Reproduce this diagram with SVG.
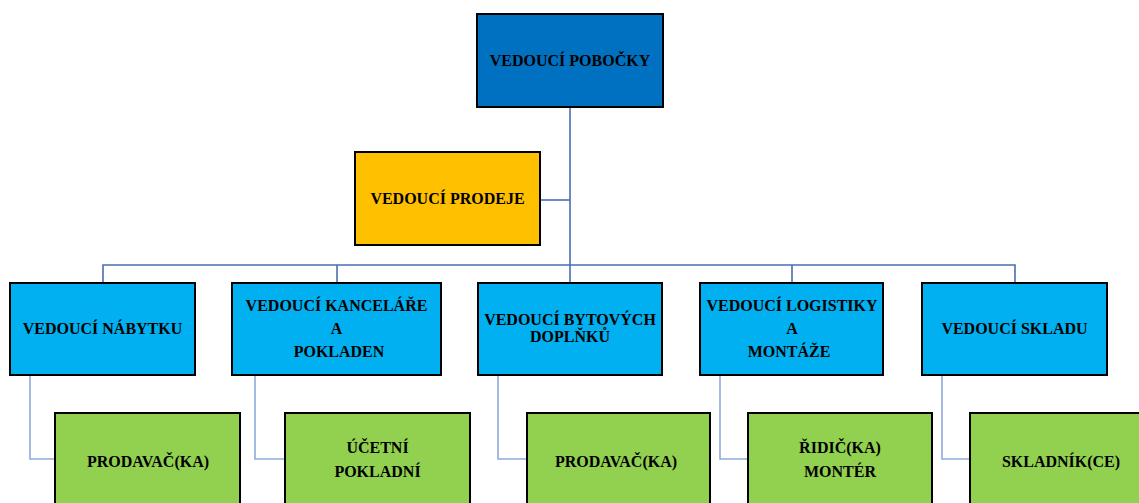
<svg xmlns="http://www.w3.org/2000/svg" width="1139" height="503" viewBox="0 0 1139 503">
<style>
.box{stroke:#000;stroke-width:2}
.top{fill:#0070C0}
.sale{fill:#FFC000}
.mgr{fill:#00B0F0}
.staff{fill:#92D050}
text{font-family:"Liberation Serif","Times New Roman",serif;font-weight:bold;fill:#000;text-anchor:middle;font-size:16px}
.c1{fill:none;stroke:#4a6db3;stroke-width:1.6}
.c2{fill:none;stroke:#8eaadb;stroke-width:1.6}
</style>
<rect width="1139" height="503" fill="#fff"/>
<g id="connectors">
<polyline class="c1" points="570,107 570,283"/>
<polyline class="c1" points="540,200 570,200"/>
<polyline class="c1" points="103,283 103,265 1015,265 1015,283"/>
<polyline class="c1" points="337,265 337,283"/>
<polyline class="c1" points="792,265 792,283"/>
<polyline class="c2" points="30,375 30,459 55,459"/>
<polyline class="c2" points="255,375 255,459 285,459"/>
<polyline class="c2" points="498,375 498,459 527,459"/>
<polyline class="c2" points="720,375 720,459 748,459"/>
<polyline class="c2" points="942,375 942,459 970,459"/>
</g>
<g id="vedouci-pobocky"><rect class="box top" x="477" y="14" width="186" height="93"/><text x="570" y="66">VEDOUCÍ POBOČKY</text></g>
<g id="vedouci-prodeje"><rect class="box sale" x="355" y="152" width="185" height="93"/><text x="447.5" y="204">VEDOUCÍ PRODEJE</text></g>
<g id="vedouci-nabytku"><rect class="box mgr" x="10" y="283" width="185" height="92"/><text x="102.5" y="334">VEDOUCÍ NÁBYTKU</text></g>
<g id="vedouci-kancelare"><rect class="box mgr" x="232" y="283" width="209" height="92"/><text x="336.5" y="311">VEDOUCÍ KANCELÁŘE</text><text x="336.5" y="334">A</text><text x="339" y="357">POKLADEN</text></g>
<g id="vedouci-bytovych"><rect class="box mgr" x="478" y="283" width="184" height="92"/><text x="570" y="325">VEDOUCÍ BYTOVÝCH</text><text x="570" y="342">DOPLŇKŮ</text></g>
<g id="vedouci-logistiky"><rect class="box mgr" x="700" y="283" width="183" height="92"/><text x="792" y="311">VEDOUCÍ LOGISTIKY</text><text x="792" y="334">A</text><text x="789" y="357">MONTÁŽE</text></g>
<g id="vedouci-skladu"><rect class="box mgr" x="922" y="283" width="185" height="92"/><text x="1014.5" y="334">VEDOUCÍ SKLADU</text></g>
<g id="prodavac-1"><rect class="box staff" x="55" y="413" width="185" height="100"/><text x="148" y="467">PRODAVAČ(KA)</text></g>
<g id="ucetni"><rect class="box staff" x="285" y="413" width="185" height="100"/><text x="377.5" y="453">ÚČETNÍ</text><text x="377.5" y="477">POKLADNÍ</text></g>
<g id="prodavac-2"><rect class="box staff" x="527" y="413" width="183" height="100"/><text x="616" y="467">PRODAVAČ(KA)</text></g>
<g id="ridic"><rect class="box staff" x="748" y="413" width="184" height="100"/><text x="840" y="453">ŘIDIČ(KA)</text><text x="840" y="477">MONTÉR</text></g>
<g id="skladnik"><rect class="box staff" x="970" y="413" width="185" height="100"/><text x="1061" y="467">SKLADNÍK(CE)</text></g>
</svg>
